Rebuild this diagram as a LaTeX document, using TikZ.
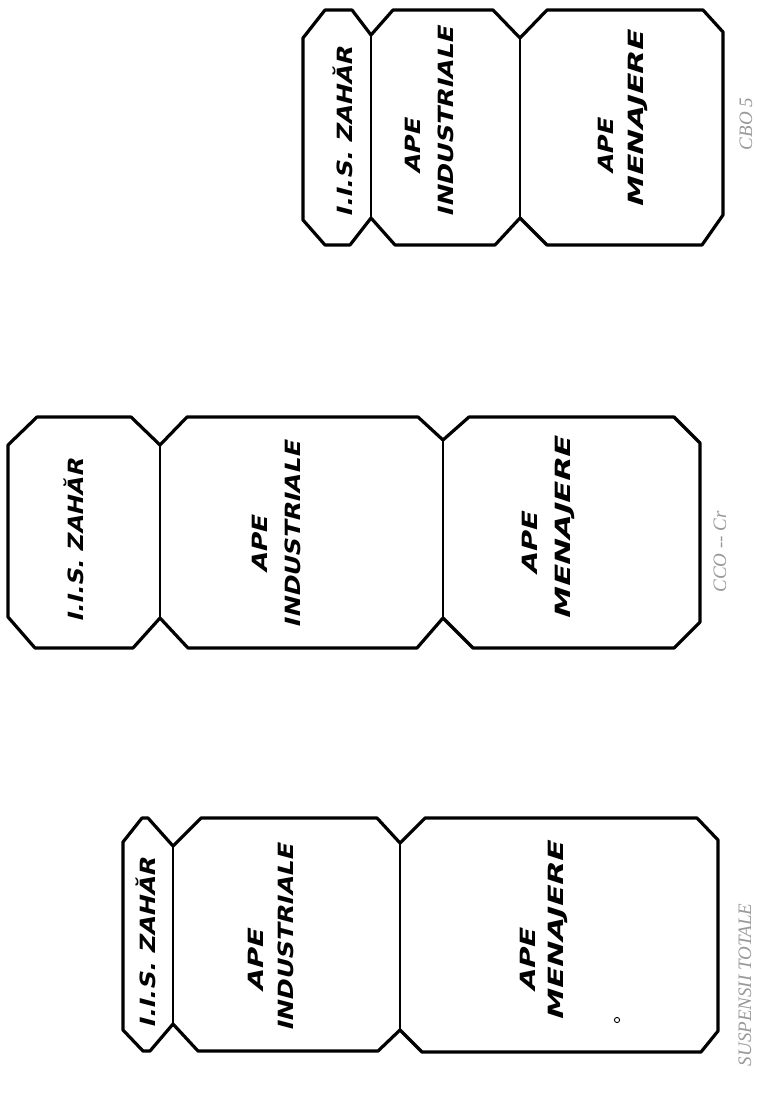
\documentclass[tikz,border=0pt]{standalone}
\usepackage{fontspec}
\usepackage{graphicx}
\newfontfamily\hand[FakeSlant=0.22]{DejaVu Sans}
\newfontfamily\capfont{Liberation Serif}
\newcommand\lw[2]{\resizebox{#1}{\height}{#2}}
\begin{document}
\begin{tikzpicture}[x=1pt,y=-1pt,
  grpline/.style={line width=3.2pt,line join=round},
  divider/.style={line width=2.2pt},
  lab/.style={rotate=90,anchor=base,inner sep=0pt,font=\hand\bfseries\fontsize{21}{24}\selectfont},
  captxt/.style={rotate=90,inner sep=0pt,text=black!40,font=\capfont\itshape\fontsize{19}{20}\selectfont}]
\fill[white] (0,0) rectangle (757,1100);
\useasboundingbox (0,0) rectangle (757,1100);
% ---------- top group (CBO5)
\draw[grpline] (303,38) -- (325,10) -- (352,10) -- (371,35) -- (393,10) -- (493,10) -- (520,38)
  -- (547,10) -- (703,10) -- (723,32) -- (723,215) -- (702,245) -- (547,245) -- (520,218)
  -- (495,245) -- (395,245) -- (371,218) -- (350,245) -- (325,245) -- (303,220) -- cycle;
\draw[divider] (371,35) -- (371,218);
\draw[divider] (520,38) -- (520,218);
\node[lab] (g1zah) at (352,132) {\lw{170pt}{I.I.S. ZAHĂR}};
\node[lab] (g1ape) at (420,147) {\lw{55pt}{APE}};
\node[lab] (g1ind) at (453,122) {\lw{190pt}{INDUSTRIALE}};
\node[lab] (g1apm) at (613,147) {\lw{55pt}{APE}};
\node[lab] (g1men) at (643,120) {\lw{176pt}{MENAJERE}};
\node[captxt] (g1cap) at (746,124) {CBO 5};
% ---------- middle group (CCO-Cr)
\draw[grpline] (8,445) -- (37,417) -- (131,417) -- (160,445) -- (187,417) -- (418,417) -- (443,440)
  -- (469,417) -- (674,417) -- (700,443) -- (700,622) -- (674,648) -- (473,648) -- (443,618)
  -- (417,648) -- (188,648) -- (160,618) -- (133,648) -- (35,648) -- (8,617) -- cycle;
\draw[divider] (160,445) -- (160,618);
\draw[divider] (443,440) -- (443,618);
\node[lab] (g2zah) at (83,541) {\lw{163pt}{I.I.S. ZAHĂR}};
\node[lab] (g2ape) at (267,545) {\lw{57pt}{APE}};
\node[lab] (g2ind) at (300,535) {\lw{186pt}{INDUSTRIALE}};
\node[lab] (g2apm) at (537,544) {\lw{62pt}{APE}};
\node[lab] (g2men) at (570,529) {\lw{182pt}{MENAJERE}};
\node[captxt] (g2cap) at (720,552) {CCO -- Cr};
% ---------- bottom group (suspensii totale)
\draw[grpline] (123,842) -- (142,818) -- (148,818) -- (173,846) -- (201,818) -- (377,818) -- (400,843)
  -- (425,818) -- (697,818) -- (718,840) -- (718,1031) -- (701,1052) -- (422,1052) -- (400,1030)
  -- (378,1051) -- (198,1051) -- (173,1024) -- (150,1051) -- (143,1051) -- (123,1030) -- cycle;
\draw[divider] (173,846) -- (173,1024);
\draw[divider] (400,843) -- (400,1030);
\node[lab] (g3zah) at (155,943) {\lw{170pt}{I.I.S. ZAHĂR}};
\node[lab] (g3ape) at (263,961) {\lw{62pt}{APE}};
\node[lab] (g3ind) at (293,938) {\lw{187pt}{INDUSTRIALE}};
\node[lab] (g3apm) at (535,961) {\lw{63pt}{APE}};
\node[lab] (g3men) at (563,932) {\lw{178pt}{MENAJERE}};
\draw[line width=0.9pt] (617,1020) circle (2.6);
\node[captxt] (g3cap) at (745,985) {SUSPENSII TOTALE};
\end{tikzpicture}
\end{document}
